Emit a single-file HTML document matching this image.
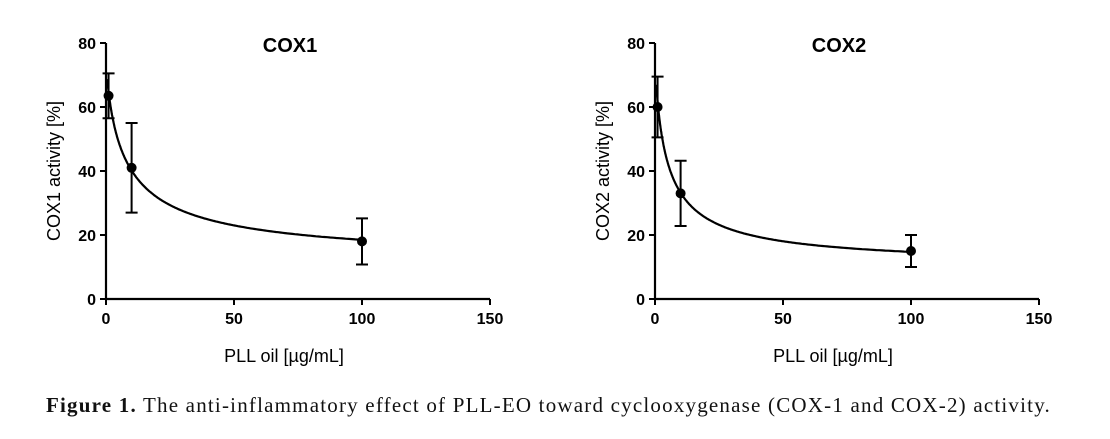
<!DOCTYPE html>
<html><head><meta charset="utf-8"><style>
body{margin:0;background:#fff;width:1110px;height:434px;overflow:hidden}
svg text{font-family:"Liberation Sans",sans-serif}
.cap{position:absolute;left:46px;top:393px;font:21px "Liberation Serif",serif;letter-spacing:1.2px;color:#111;white-space:nowrap}
</style></head><body>
<svg id="chart" width="1110" height="434"></svg>
<div class="cap"><b>Figure 1.</b> The anti-inflammatory effect of PLL-EO toward cyclooxygenase (COX-1 and COX-2) activity.</div>
<script>
const xTicks=[0,50,100,150];
const yTicks=[0,20,40,60,80];
const doses=[1,10,100];
const cox1Mean=[63.5,41,18];
const cox1Err=[7,14,7.2];
const cox2Mean=[60,33,15];
const cox2Err=[9.5,10.2,5];
const cox1Fit=[75,11,8,0.8];
const cox2Fit=[75,10,5,0.85];
const NS='http://www.w3.org/2000/svg';
const svg=document.getElementById('chart');
function mk(t,a,p){const e=document.createElementNS(NS,t);for(const k in a)e.setAttribute(k,a[k]);(p||svg).appendChild(e);return e;}
function panel(name,x0,title,ylabel,mean,err,fit){
  const g=mk('g',{});
  
  
  const y0=299,yTop=43,xEnd=x0+384;
  const sx=v=>x0+v/150*(xEnd-x0);
  const sy=v=>y0-v/80*(y0-yTop);
  const ax=mk('path',{d:`M${x0} ${yTop}V${y0}H${xEnd}`,stroke:'#000','stroke-width':2.2,fill:'none'},g);
  
  
  yTicks.forEach(v=>{mk('line',{x1:x0-6,x2:x0,y1:sy(v),y2:sy(v),stroke:'#000','stroke-width':2},g);
    const t=mk('text',{x:x0-10,y:sy(v)+6,'text-anchor':'end','font-size':16,'font-weight':'bold'},g);t.textContent=v;
    
    });
  xTicks.forEach(v=>{mk('line',{x1:sx(v),x2:sx(v),y1:y0,y2:y0+6,stroke:'#000','stroke-width':2},g);
    const t=mk('text',{x:sx(v),y:y0+25,'text-anchor':'middle','font-size':16,'font-weight':'bold'},g);t.textContent=v;
    
    });
  const tt=mk('text',{x:x0+184,y:52,'text-anchor':'middle','font-size':20,'font-weight':'bold'},g);tt.textContent=title;
  
  
  const xl=mk('text',{x:x0+178,y:362,'text-anchor':'middle','font-size':18},g);xl.textContent='PLL oil [µg/mL]';
  
  
  const yl=mk('text',{x:0,y:0,'text-anchor':'middle','font-size':18,transform:`translate(${x0-46},171) rotate(-90)`},g);yl.textContent=ylabel;
  
  
  const [t,b,c,h]=fit;let d='';
  for(let i=0;i<=400;i++){const x=0.5*Math.pow(200,i/400);const y=b+(t-b)/(1+Math.pow(x/c,h));d+=(i?'L':'M')+sx(x).toFixed(1)+' '+sy(y).toFixed(1);}
  const cv=mk('path',{d,stroke:'#000','stroke-width':2.2,fill:'none'},g);
  
  
  doses.forEach((x,i)=>{const px=sx(x),hi=sy(mean[i]+err[i]),lo=sy(mean[i]-err[i]);
    const e=mk('path',{d:`M${px} ${hi}V${lo}M${px-6} ${hi}H${px+6}M${px-6} ${lo}H${px+6}`,stroke:'#000','stroke-width':2,fill:'none'},g);
    
    
    const p=mk('circle',{cx:px,cy:sy(mean[i]),r:5,fill:'#000'},g);
    
    });
}
panel('cox1',106,'COX1','COX1 activity [%]',cox1Mean,cox1Err,cox1Fit);
panel('cox2',655,'COX2','COX2 activity [%]',cox2Mean,cox2Err,cox2Fit);
</script>
</body></html>
